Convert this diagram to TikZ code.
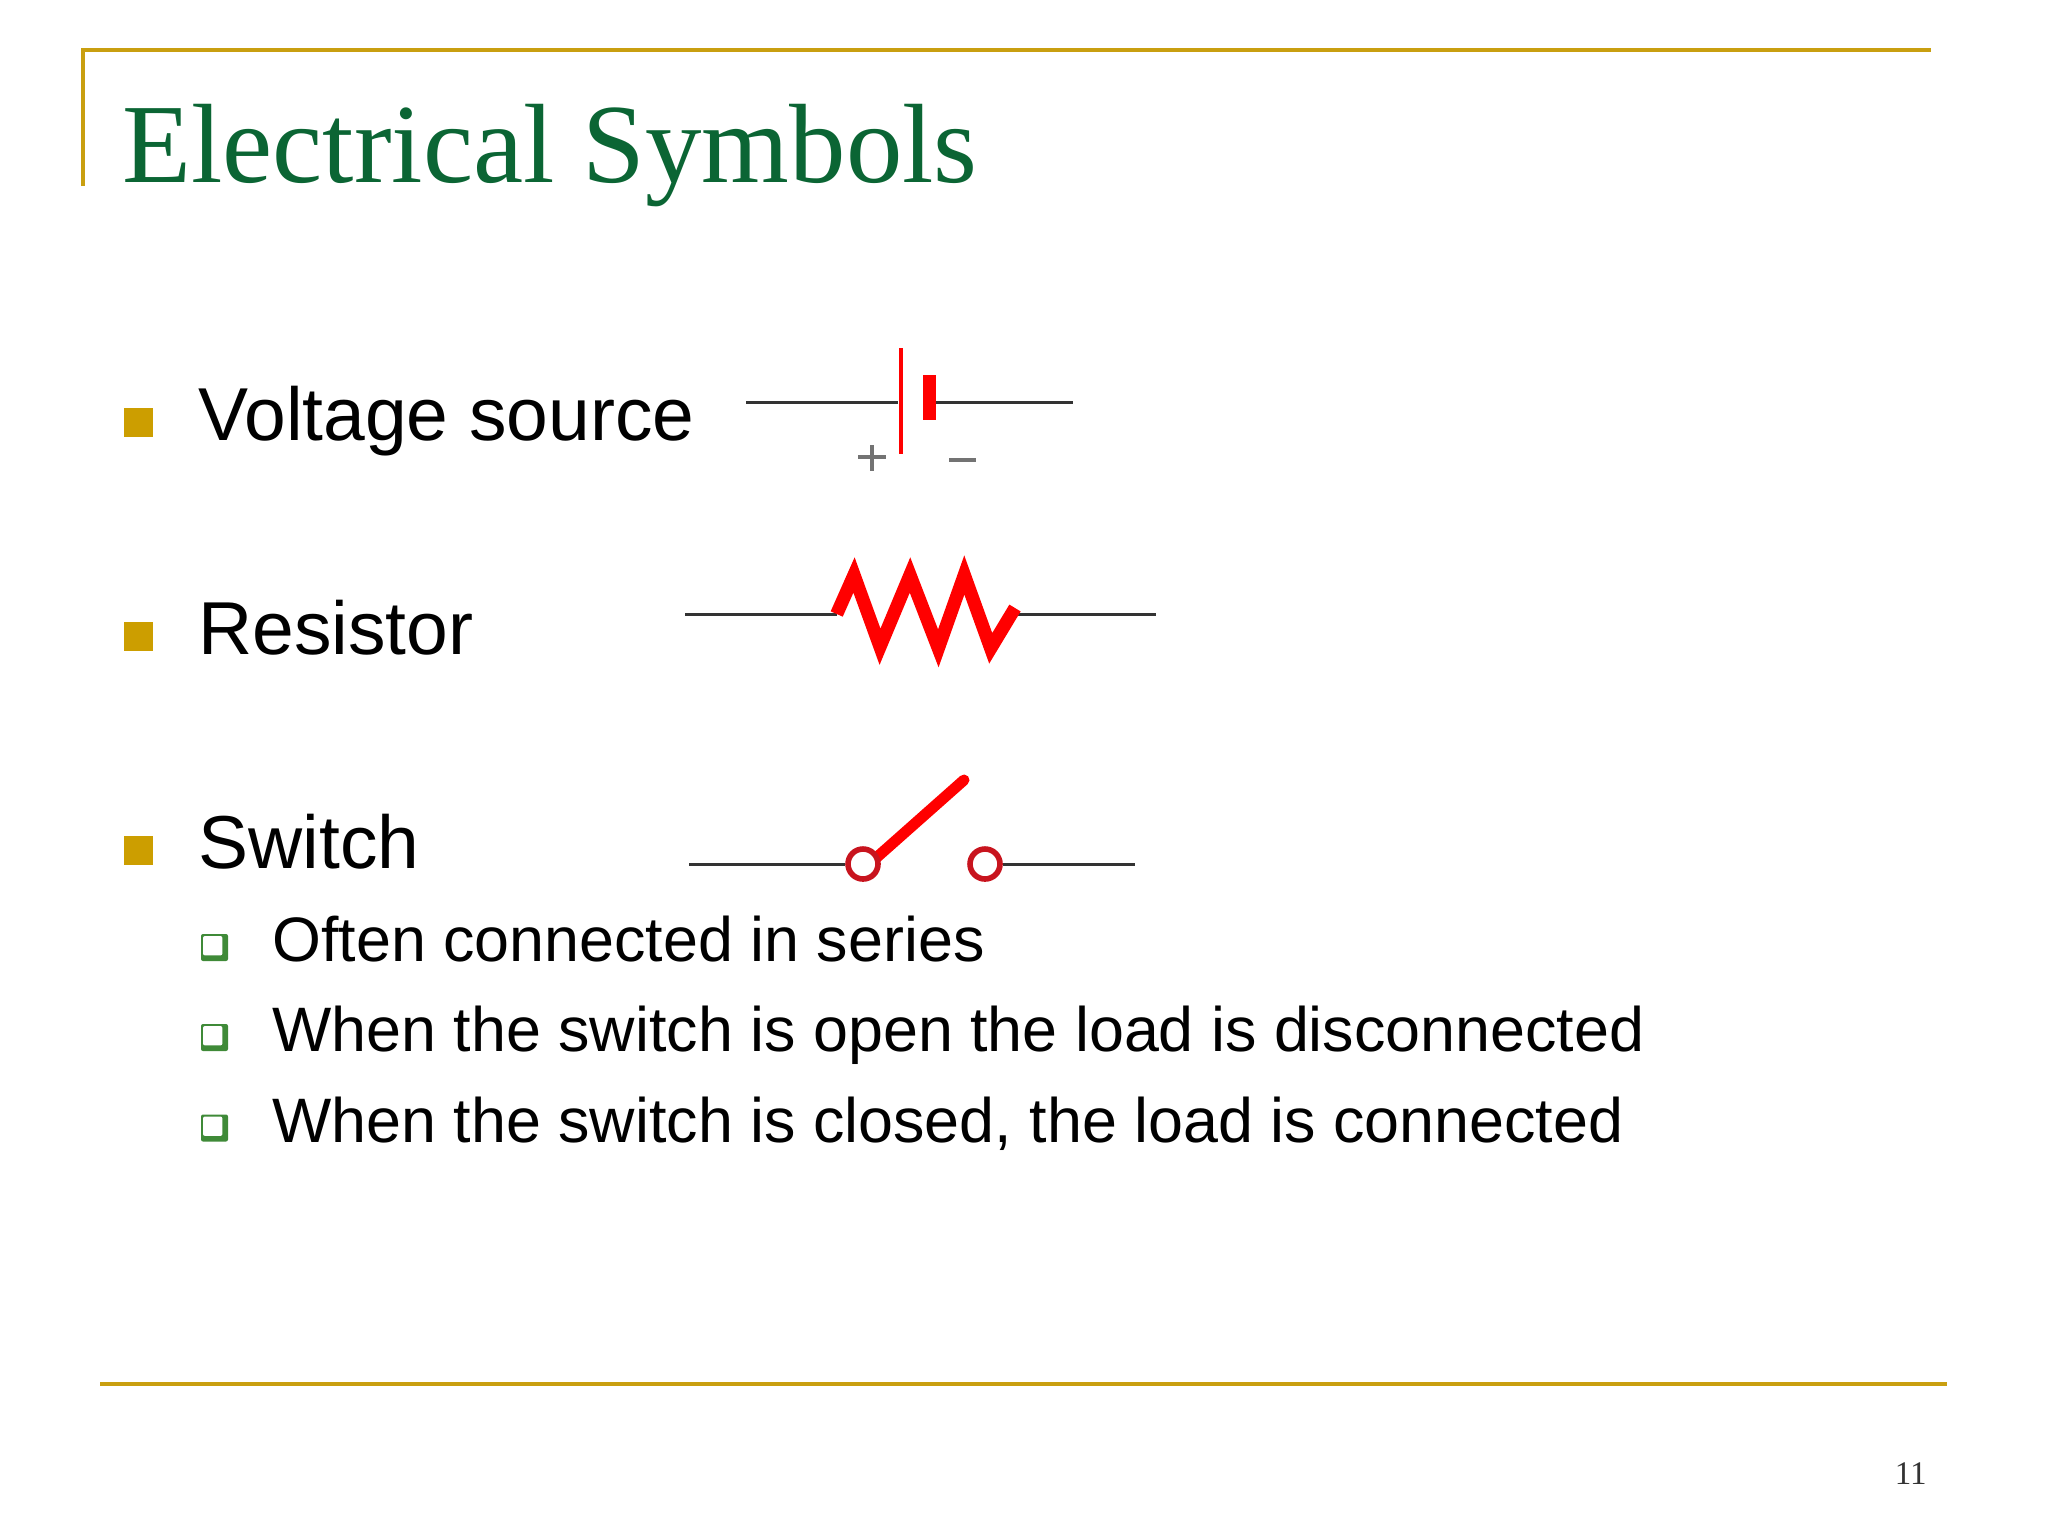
\documentclass[tikz,border=0pt]{standalone}
\usepackage{fontspec}
\setmainfont{Liberation Sans}
\newfontfamily\titlefont{Liberation Serif}
\usetikzlibrary{positioning}
\definecolor{framegold}{HTML}{C99F10}
\definecolor{bulletgold}{HTML}{CC9E00}
\definecolor{titlegreen}{HTML}{0B6534}
\definecolor{boxgreen}{HTML}{3F8A38}
\definecolor{ringred}{HTML}{C8141E}
\tikzset{
  frameline/.style={draw=framegold,line width=2pt},
  wire/.style={draw=black!80,line width=1.5pt},
  redpart/.style={draw=red,line cap=round},
  heading/.style={anchor=base west,inner sep=0pt,text=titlegreen,font=\titlefont\fontsize{56.4}{60}\selectfont},
  bigitem/.style={anchor=base west,inner sep=0pt,text=black,font=\fontsize{37.5}{40}\selectfont},
  smallitem/.style={anchor=base west,inner sep=0pt,text=black,font=\fontsize{31.4}{36}\selectfont},
  bigmark/.style={fill=bulletgold,inner sep=0pt,minimum size=14.5pt},
  smallmark/.style={fill=boxgreen,inner sep=0pt,minimum size=13.5pt,rounded corners=1pt,path picture={
    \fill[white] ([shift={(1pt,-1pt)}]path picture bounding box.north west) rectangle ([shift={(-2.8pt,2.8pt)}]path picture bounding box.south east);}},
  thinplate/.style={fill=red,inner sep=0pt,minimum width=2.4pt,minimum height=53pt},
  thickplate/.style={fill=red,inner sep=0pt,minimum width=6.2pt,minimum height=22.5pt},
  ring/.style={circle,draw=ringred,fill=white,line width=2.8pt,inner sep=0pt,minimum size=15pt},
  signmark/.style={draw=black!55,line width=1.8pt},
}
\begin{document}
\begin{tikzpicture}[x=0.5pt,y=-0.5pt]
\useasboundingbox (0,0) rectangle (2048,1537);

% to draw the frame lines
\coordinate (frameA) at (83,186);
\coordinate (frameB) at (83,50);
\coordinate (frameC) at (1931,50);
\coordinate (footA) at (100,1384);
\coordinate (footB) at (1947,1384);
\draw [frameline] (frameA) -- (frameB) -- (frameC);
\draw [frameline] (footA) -- (footB);

% to write title and page number
\node [heading] (title) at (122,182){Electrical Symbols};
\node [anchor=base east,inner sep=0pt,font=\titlefont\fontsize{16.5}{18}\selectfont,text=black!80] (pagenum) at (1927,1484){11};

% to write bullets
\node [bigmark] (markV) at (138.5,422){};
\node [bigitem] (voltage) at (198,440){Voltage source};
\node [bigmark] (markR) at (138.5,636){};
\node [bigitem] (resistor) at (198,654){Resistor};
\node [bigmark] (markS) at (138.5,850){};
\node [bigitem] (switch) at (198,868){Switch};

\node [smallmark] (markA) at (214.5,947.5){};
\node [smallitem] (often) at (272,961){Often connected in series};
\node [smallmark] (markB) at (214.5,1037.5){};
\node [smallitem] (open) at (272,1051){When the switch is open the load is disconnected};
\node [smallmark] (markC) at (214.5,1128){};
\node [smallitem] (closed) at (272,1142){When the switch is closed, the load is connected};

% Voltage source
\coordinate (batL) at (746,402);
\coordinate (batR) at (1073,402);
\node [thinplate] (plateA) at (901,401){};
\node [thickplate] (plateB) at (929.5,397.5){};
\draw [wire] (batL) -- (plateA.west |- batL);
\draw [wire] (plateB.east |- batR) -- (batR);
\coordinate (plusL) at (858,457);
\coordinate (plusR) at (886,457);
\coordinate (plusT) at (872,445);
\coordinate (plusB) at (872,471);
\coordinate (minusL) at (949,460);
\coordinate (minusR) at (976,460);
\draw [signmark] (plusL) -- (plusR);
\draw [signmark] (plusT) -- (plusB);
\draw [signmark] (minusL) -- (minusR);

% Resistor
\coordinate (resL) at (685,614);
\coordinate (resR) at (1156,614);
\coordinate (zigA) at (836.7,614);
\coordinate (zigB) at (854,575);
\coordinate (zigC) at (880,646.7);
\coordinate (zigD) at (910,575);
\coordinate (zigE) at (938.3,648.3);
\coordinate (zigF) at (964.3,575);
\coordinate (zigG) at (990.7,648.3);
\coordinate (zigH) at (1015,608);
\coordinate (zigI) at (1018,614);
\draw [wire] (resL) -- (zigA);
\draw [wire] (zigI) -- (resR);
\draw [draw=red,line width=6.6pt,miter limit=10] (zigA) -- (zigB) -- (zigC) -- (zigD) -- (zigE) -- (zigF) -- (zigG) -- (zigH);

% Switch
\coordinate (swL) at (689,864);
\coordinate (swR) at (1135,864);
\coordinate (bladeStart) at (876,858);
\coordinate (bladeTip) at (964,780);
\draw [redpart,line width=5.5pt] (bladeStart) -- (bladeTip);
\node [ring] (ringA) at (863,864){};
\node [ring] (ringB) at (985,864){};
\draw [wire] (swL) -- (ringA);
\draw [wire] (ringB) -- (swR);
\end{tikzpicture}
\end{document}
